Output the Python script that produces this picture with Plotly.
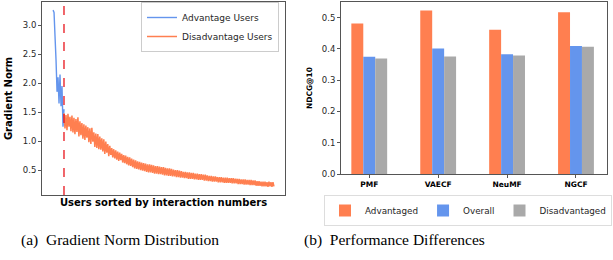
import plotly.graph_objects as go

# ---------------- data ----------------
# Left: gradient norm of users sorted by interaction number
advantage_norm = [3.26, 3.22, 2.80, 2.40, 1.85, 2.10, 1.65, 2.15, 1.60, 1.95, 1.25, 1.55]
disadvantage_norm = [
    1.48, 1.22, 1.45, 1.19, 1.47, 1.25, 1.42, 1.17, 1.44, 1.15,
    1.40, 1.12, 1.38, 1.16, 1.41, 1.08, 1.34, 1.10, 1.31, 1.04,
    1.29, 1.02, 1.27, 1.06, 1.24, 0.98, 1.22, 0.95, 1.23, 0.99,
    1.15, 0.90, 1.13, 0.88, 1.12, 0.86, 1.08, 0.85, 1.05, 0.82,
    1.03, 0.78, 0.99, 0.80, 0.95, 0.74, 0.92, 0.76, 0.88, 0.72,
    0.86, 0.70, 0.84, 0.68, 0.82, 0.66, 0.80, 0.67, 0.78, 0.63,
    0.76, 0.62, 0.75, 0.60, 0.73, 0.58, 0.72, 0.57, 0.70, 0.55,
    0.68, 0.53, 0.67, 0.52, 0.65, 0.51, 0.64, 0.50, 0.63, 0.49,
    0.62, 0.48, 0.61, 0.47, 0.60, 0.46, 0.60, 0.46, 0.59, 0.45,
    0.58, 0.44, 0.57, 0.44, 0.57, 0.43, 0.56, 0.43, 0.55, 0.42,
    0.55, 0.41, 0.54, 0.41, 0.53, 0.40, 0.53, 0.40, 0.52, 0.39,
    0.51, 0.39, 0.50, 0.38, 0.50, 0.38, 0.49, 0.37, 0.48, 0.37,
    0.47, 0.36, 0.47, 0.36, 0.46, 0.35, 0.46, 0.35, 0.45, 0.35,
    0.45, 0.34, 0.44, 0.34, 0.44, 0.33, 0.43, 0.33, 0.43, 0.33,
    0.42, 0.32, 0.42, 0.32, 0.41, 0.31, 0.40, 0.31, 0.40, 0.30,
    0.39, 0.30, 0.39, 0.30, 0.38, 0.29, 0.38, 0.29, 0.38, 0.29,
    0.37, 0.28, 0.37, 0.28, 0.37, 0.28, 0.36, 0.28, 0.36, 0.27,
    0.36, 0.27, 0.35, 0.27, 0.35, 0.26, 0.35, 0.26, 0.34, 0.26,
    0.34, 0.25, 0.34, 0.25, 0.33, 0.25, 0.33, 0.24, 0.33, 0.24,
    0.32, 0.24, 0.32, 0.23, 0.31, 0.23, 0.31, 0.23, 0.30, 0.22,
    0.30, 0.22, 0.30, 0.22, 0.29, 0.21, 0.30, 0.22, 0.29, 0.21, 0.29, 0.22,
]
grad_ticks = [0.5, 1.0, 1.5, 2.0, 2.5, 3.0]

# Right: NDCG@10 by model
models = ["PMF", "VAECF", "NeuMF", "NGCF"]
ndcg_advantaged = [0.481, 0.523, 0.461, 0.517]
ndcg_overall = [0.375, 0.401, 0.383, 0.409]
ndcg_disadvantaged = [0.369, 0.376, 0.379, 0.407]
ndcg_ticks = [0.0, 0.1, 0.2, 0.3, 0.4, 0.5]

# ---------------- figure ----------------
W, H = 613, 260
ORANGE = "#FF7F50"
BLUE = "#6495ED"
GRAY = "#A9A9A9"
TXT = "#262626"
SPINE = "#555555"

split = len(advantage_norm) - 1
x_adv = list(range(len(advantage_norm)))
x_dis = list(range(split, split + len(disadvantage_norm)))
n_total = x_dis[-1]

fig = go.Figure()
fig.add_trace(go.Scatter(x=x_adv, y=advantage_norm, mode="lines", name="Advantage Users",
                         line=dict(color=BLUE, width=1.4, simplify=False),
                         xaxis="x", yaxis="y", legend="legend"))
fig.add_trace(go.Scatter(x=x_dis, y=disadvantage_norm, mode="lines", name="Disadvantage Users",
                         line=dict(color=ORANGE, width=1.5, simplify=False),
                         xaxis="x", yaxis="y", legend="legend"))

for name, vals, col in [("Advantaged", ndcg_advantaged, ORANGE),
                        ("Overall", ndcg_overall, BLUE),
                        ("Disadvantaged", ndcg_disadvantaged, GRAY)]:
    fig.add_trace(go.Bar(x=models, y=vals, name=name, marker=dict(color=col, line=dict(width=0)),
                         xaxis="x2", yaxis="y2", legend="legend2"))

def px_x(p):
    return p / W

def px_y(p):
    return 1 - p / H

axis_common = dict(showline=True, mirror=True, linecolor=SPINE, linewidth=1,
                   showgrid=False, zeroline=False, ticks="outside", ticklen=3,
                   tickcolor=SPINE, tickfont=dict(family="DejaVu Sans", size=8.5, color=TXT))

fig.update_layout(
    width=W, height=H,
    margin=dict(l=0, r=0, t=0, b=0, autoexpand=False),
    paper_bgcolor="white", plot_bgcolor="white",
    barmode="group", bargap=0.48, bargroupgap=0,
    xaxis=dict(domain=[px_x(42), px_x(285)], range=[-0.05 * n_total, 1.05 * n_total],
               showticklabels=False, **{k: v for k, v in axis_common.items() if k != "ticks"},
               ticks="",
               title=dict(text="<b>Users sorted by interaction numbers</b>", standoff=3,
                          font=dict(family="DejaVu Sans", size=10, color="black"))),
    yaxis=dict(domain=[px_y(195), px_y(2)], range=[0.07, 3.40], tickvals=grad_ticks,
               tickformat=".1f", **axis_common,
               title=dict(text="<b>Gradient Norm</b>", standoff=8,
                          font=dict(family="DejaVu Sans", size=10, color="black"))),
    xaxis2=dict(domain=[px_x(341), px_x(607)], range=[-0.41, 3.45], anchor="y2",
                **{k: v for k, v in axis_common.items() if k != "tickfont"},
                tickfont=dict(family="DejaVu Sans", size=7.5, color="black", weight="bold")),
    yaxis2=dict(domain=[px_y(174), px_y(2)], range=[0, 0.55], tickvals=ndcg_ticks,
                tickformat=".1f", anchor="x2", **axis_common,
                title=dict(text="<b>NDCG@10</b>", standoff=8,
                           font=dict(family="DejaVu Sans", size=7.5, color="black"))),
    legend=dict(x=px_x(279), xanchor="right", y=px_y(2), yanchor="top",
                bgcolor="white", bordercolor="#cccccc", borderwidth=1,
                font=dict(family="DejaVu Sans", size=9, color=TXT), tracegroupgap=0,
                itemwidth=30),
    legend2=dict(orientation="h", x=px_x(324), xanchor="left", y=px_y(195), yanchor="top",
                 bgcolor="white", bordercolor="#dddddd", borderwidth=1,
                 font=dict(family="DejaVu Sans", size=8.8, color=TXT)),
    shapes=[dict(type="line", xref="x", yref="paper", x0=split, x1=split,
                 y0=px_y(195), y1=px_y(2), line=dict(color="#e8141c", width=1.3, dash="dash"))],
    annotations=[
        dict(text="(a)  Gradient Norm Distribution", xref="paper", yref="paper",
             x=px_x(120), y=px_y(240), xanchor="center", yanchor="middle", showarrow=False,
             font=dict(family="Liberation Serif", size=15.5, color="black")),
        dict(text="(b)  Performance Differences", xref="paper", yref="paper",
             x=px_x(394), y=px_y(240), xanchor="center", yanchor="middle", showarrow=False,
             font=dict(family="Liberation Serif", size=15.5, color="black")),
    ],
)

fig.write_html("out.html", config={"displayModeBar": False},
               post_script="document.body.style.margin='0';")
